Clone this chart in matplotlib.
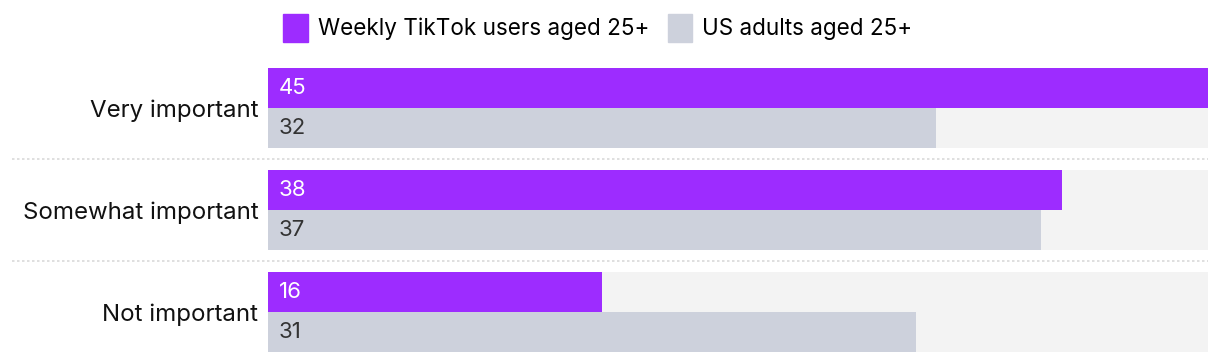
import matplotlib.pyplot as plt
from matplotlib.patches import Patch

plt.rcParams['font.family'] = ['Inter', 'DejaVu Sans']

# data
categories = ["Very important", "Somewhat important", "Not important"]
tiktok = [45, 38, 16]
us_adults = [32, 37, 31]
series_names = ["Weekly TikTok users aged 25+", "US adults aged 25+"]
max_val = 45

purple = "#9D2CFF"
grey = "#CDD1DC"
track = "#F3F3F3"

W, H = 1220, 364
fig = plt.figure(figsize=(W / 100, H / 100), dpi=100)
# axes in pixel terms: x 268..1208, y 68..352 (from top)
ax = fig.add_axes([268 / W, (H - 352) / H, 940 / W, (352 - 68) / H])

pitch = 102
bar_h = 40
centers = [108 + i * pitch for i in range(len(categories))]

for i, c in enumerate(centers):
    # background track
    ax.barh(c, max_val, height=2 * bar_h, color=track, linewidth=0)
    ax.barh(c - bar_h / 2, tiktok[i], height=bar_h, color=purple, linewidth=0)
    ax.barh(c + bar_h / 2, us_adults[i], height=bar_h, color=grey, linewidth=0)
    ax.text(0.5, c - bar_h / 2, str(tiktok[i]), color="white", fontsize=16,
            va="center", ha="left")
    ax.text(0.5, c + bar_h / 2, str(us_adults[i]), color="#333333", fontsize=16,
            va="center", ha="left")

# dotted separators between groups
for i in range(len(centers) - 1):
    y = (centers[i] + centers[i + 1]) / 2
    ax.axhline(y, xmin=(12 - 268) / 940, xmax=1, color="#D9D9D9", lw=1.2,
               ls=(0, (1.5, 1.5)), clip_on=False)

ax.set_xlim(0, max_val)
ax.set_ylim(352, 68)
ax.set_yticks(centers)
ax.set_yticklabels(categories, fontsize=17.3, color="#111111")
ax.tick_params(axis="y", length=0, pad=7)
ax.set_xticks([])
for s in ax.spines.values():
    s.set_visible(False)

handles = [Patch(color=purple), Patch(color=grey)]
fig.legend(handles, series_names, loc="center", bbox_to_anchor=(598 / W, 1 - 28 / H),
           ncol=2, frameon=False, fontsize=16.2, handlelength=1.1, handleheight=1.5,
           handletextpad=0.45, columnspacing=0.8)

fig.savefig("out.png", dpi=100)
